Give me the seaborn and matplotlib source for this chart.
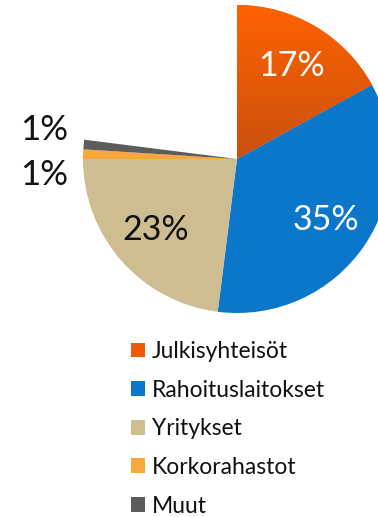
import matplotlib
matplotlib.use("Agg")
import matplotlib.pyplot as plt
import matplotlib.patches as mpatches
from matplotlib.colors import LinearSegmentedColormap
import numpy as np
import seaborn as sns

# Share of holdings by investor group
categories = ["Julkisyhteisöt", "Rahoituslaitokset", "Yritykset", "Korkorahastot", "Muut"]
shares = [17, 35, 23, 1, 1]
pct_labels = ["17%", "35%", "23%", "1%", "1%"]
unlisted = 100 - sum(shares)  # remainder left blank in the pie

colors = sns.color_palette(["#EE5A08", "#0B77CB", "#CDBD90", "#F8A73C", "#5C5C5C"])

sns.set_theme(style="white")
plt.rcParams["font.family"] = ["Lato", "DejaVu Sans"]

W, H = 378, 517
fig = plt.figure(figsize=(W / 100, H / 100), dpi=100)
ax = fig.add_axes([0, 0, 1, 1])

cx, cy, r = 237, H - 159, 154
wedges, _ = ax.pie(
    shares + [unlisted],
    colors=list(colors) + ["none"],
    startangle=90,
    counterclock=False,
    center=(cx, cy),
    radius=r,
    frame=True,
    wedgeprops=dict(linewidth=0),
)
ax.set_xlim(0, W)
ax.set_ylim(0, H)
ax.set_aspect("equal")
ax.axis("off")

# vertical shading on the first slice, bright at the top and deeper below
shade = LinearSegmentedColormap.from_list("shade", ["#C9500E", "#FF6200"])
grad = np.linspace(0, 1, 256).reshape(-1, 1)
img = ax.imshow(grad, cmap=shade, origin="lower", aspect="auto",
                extent=(cx, cx + r, cy, cy + r), zorder=wedges[0].get_zorder() + 0.1)
img.set_clip_path(wedges[0])
ax.set_xlim(0, W)
ax.set_ylim(0, H)

# percentage labels inside the large slices
for w, lab, col in zip(wedges[:3], pct_labels[:3], ["white", "white", "#111111"]):
    ang = np.deg2rad((w.theta1 + w.theta2) / 2)
    ax.text(cx + 0.70 * r * np.cos(ang), cy + 0.70 * r * np.sin(ang), lab,
            ha="center", va="center", fontsize=24.5, color=col, zorder=5)

# small slices labelled outside on the left
ax.text(44, H - 130, pct_labels[4], ha="center", va="center", fontsize=25, color="#111111")
ax.text(44, H - 175, pct_labels[3], ha="center", va="center", fontsize=25, color="#111111")

handles = [mpatches.Patch(facecolor=c, edgecolor="none") for c in colors]
ax.legend(handles, categories, loc="upper left", bbox_to_anchor=(131 / W, 1 - 341 / H),
          frameon=False, fontsize=16.5, handlelength=0.62, handleheight=0.62,
          handletextpad=0.3, labelspacing=0.77, borderaxespad=0, borderpad=0,
          labelcolor="#111111")

fig.savefig("out.png", dpi=100)
